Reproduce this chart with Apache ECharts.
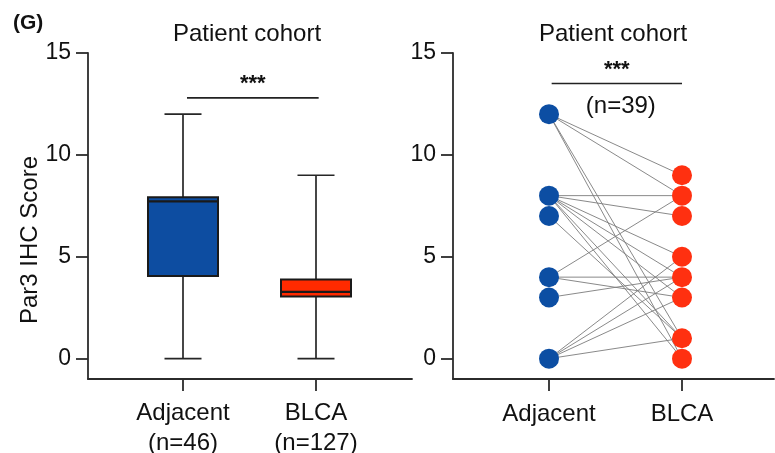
<!DOCTYPE html>
<html>
<head>
<meta charset="utf-8">
<script src="https://cdn.jsdelivr.net/npm/echarts@6/dist/echarts.min.js"></script>
<style>
html,body{margin:0;padding:0;background:#fff;}
#chart{width:775px;height:453px;}
</style>
</head>
<body>
<div id="chart"></div>
<script>
// ---- data ----
const categories = ['Adjacent', 'BLCA'];
const leftCatLabels = ['Adjacent\n(n=46)', 'BLCA\n(n=127)'];
const rightCatLabels = ['Adjacent', 'BLCA'];
const yTickValues = [0, 5, 10, 15];
// box plot: [min, Q1, median, Q3, max]
const boxAdjacent = [0, 4.05, 7.72, 7.92, 12];
const boxBLCA = [0, 3.05, 3.28, 3.88, 9];
// paired samples (distinct visible connections)
const pairAdjacent = [12, 12, 12, 12, 8, 8, 8, 8, 8, 8, 8, 7, 4, 4, 4, 3, 0, 0, 0, 0];
const pairBLCA     = [ 9,  8,  1,  0, 8, 7, 5, 4, 3, 1, 0, 1, 8, 4, 3, 4, 5, 4, 3, 1];
const adjacentPoints = [12, 8, 7, 4, 3, 0];
const blcaPoints = [9, 8, 7, 5, 4, 3, 1, 0];
// significance annotations: [xStart, xEnd, y]
const sigLeft = [1.03, 2.02, 12.8];
const sigRight = [1.02, 2.0, 13.5];
const nRightText = '(n=39)';
const sigText = '***';

// ---- style ----
const FONT = "'Liberation Sans', Arial, Helvetica, sans-serif";
const BLUE = '#0D4DA1';
const RED = '#FF2A00';
const DOT_BLUE = '#0C4EA3';
const DOT_RED = '#FF3010';
const AX = '#2b2b2b';
const boxColors = [BLUE, RED];

function axisX(gridIndex, min, max, labels, margin) {
  return {
    gridIndex, type: 'value', min, max,
    axisLine: { onZero: false, lineStyle: { color: AX, width: 1.8 } },
    axisTick: { customValues: [1, 2], length: 12, lineStyle: { color: AX, width: 1.8 } },
    axisLabel: {
      customValues: [1, 2], margin,
      formatter: v => labels[Math.round(v) - 1],
      fontFamily: FONT, fontSize: 24, lineHeight: 30, color: '#111'
    },
    splitLine: { show: false }
  };
}
function axisY(gridIndex) {
  return {
    gridIndex, type: 'value', min: -1, max: 15,
    axisLine: { show: true, onZero: false, lineStyle: { color: AX, width: 1.8 } },
    axisTick: { show: true, customValues: yTickValues, length: 12, lineStyle: { color: AX, width: 1.8 } },
    axisLabel: { customValues: yTickValues, margin: 17, fontFamily: FONT, fontSize: 23, color: '#111' },
    splitLine: { show: false }
  };
}

function renderBox(params, api) {
  const x = api.value(0);
  const mn = api.value(1), q1 = api.value(2), md = api.value(3), q3 = api.value(4), mx = api.value(5);
  const px = api.coord([x, 0])[0];
  const y = v => api.coord([x, v])[1];
  const hb = 35, hc = 18.5;
  const ls = { stroke: '#262626', lineWidth: 1.7 };
  return {
    type: 'group',
    children: [
      { type: 'line', shape: { x1: px, y1: y(mx), x2: px, y2: y(q3) }, style: ls },
      { type: 'line', shape: { x1: px, y1: y(q1), x2: px, y2: y(mn) }, style: ls },
      { type: 'line', shape: { x1: px - hc, y1: y(mx), x2: px + hc, y2: y(mx) }, style: ls },
      { type: 'line', shape: { x1: px - hc, y1: y(mn), x2: px + hc, y2: y(mn) }, style: ls },
      { type: 'rect', shape: { x: px - hb, y: y(q3), width: 2 * hb, height: y(q1) - y(q3) },
        style: { fill: boxColors[params.dataIndex], stroke: '#1a1a1a', lineWidth: 2 } },
      { type: 'line', shape: { x1: px - hb, y1: y(md), x2: px + hb, y2: y(md) },
        style: { stroke: '#1a1a1a', lineWidth: 2.2 } }
    ]
  };
}

function renderSig(extraText) {
  return function (params, api) {
    const x1 = api.value(0), x2 = api.value(1), yv = api.value(2);
    const p1 = api.coord([x1, yv]);
    const p2 = api.coord([x2, yv]);
    const cx = (p1[0] + p2[0]) / 2;
    const children = [
      { type: 'line', shape: { x1: p1[0], y1: p1[1], x2: p2[0], y2: p2[1] },
        style: { stroke: '#222', lineWidth: 1.6 } },
      { type: 'text', x: cx, y: p1[1] - 14,
        style: { text: sigText, font: 'bold 22px ' + FONT, fill: '#111',
                 align: 'center', verticalAlign: 'middle' } }
    ];
    if (extraText) {
      children.push({ type: 'text', x: cx + 4, y: p1[1] + 23,
        style: { text: extraText, font: '24px ' + FONT, fill: '#111',
                 align: 'center', verticalAlign: 'middle' } });
    }
    return { type: 'group', children };
  };
}

function renderPair(params, api) {
  const a = api.coord([api.value(0), api.value(1)]);
  const b = api.coord([api.value(2), api.value(3)]);
  return { type: 'line', shape: { x1: a[0], y1: a[1], x2: b[0], y2: b[1] },
           style: { stroke: '#7c7c7c', lineWidth: 0.9 } };
}

const chart = echarts.init(document.getElementById('chart'), null, { renderer: 'canvas' });
const option = {
  animation: false,
  backgroundColor: '#fff',
  grid: [
    { left: 88, top: 53, width: 324, height: 326, outerBoundsMode: 'none', containLabel: false },
    { left: 453, top: 53, width: 321, height: 326, outerBoundsMode: 'none', containLabel: false }
  ],
  xAxis: [
    axisX(0, 1 - 95 / 133, 2 + 96 / 133, leftCatLabels, 19),
    axisX(1, 1 - 96 / 133, 2 + 92 / 133, rightCatLabels, 20)
  ],
  yAxis: [axisY(0), axisY(1)],
  graphic: [
    { type: 'text', x: 13, y: 23, style: { text: '(G)', font: 'bold 21px ' + FONT, fill: '#111', verticalAlign: 'middle' } },
    { type: 'text', x: 247, y: 34, style: { text: 'Patient cohort', font: '24px ' + FONT, fill: '#111', align: 'center', verticalAlign: 'middle' } },
    { type: 'text', x: 613, y: 34, style: { text: 'Patient cohort', font: '24px ' + FONT, fill: '#111', align: 'center', verticalAlign: 'middle' } },
    { type: 'text', x: 30, y: 240, rotation: Math.PI / 2, style: { text: 'Par3 IHC Score', font: '24px ' + FONT, fill: '#111', align: 'center', verticalAlign: 'middle' } }
  ],
  series: [
    {
      type: 'custom', xAxisIndex: 0, yAxisIndex: 0,
      renderItem: renderBox,
      encode: { x: 0, y: [1, 2, 3, 4, 5] },
      data: [[1].concat(boxAdjacent), [2].concat(boxBLCA)]
    },
    {
      type: 'custom', xAxisIndex: 0, yAxisIndex: 0,
      renderItem: renderSig(null),
      encode: { x: [0, 1], y: 2 },
      data: [sigLeft]
    },
    {
      type: 'custom', xAxisIndex: 1, yAxisIndex: 1,
      renderItem: renderPair,
      encode: { x: [0, 2], y: [1, 3] },
      data: pairAdjacent.map((a, i) => [1, a, 2, pairBLCA[i]])
    },
    {
      type: 'scatter', xAxisIndex: 1, yAxisIndex: 1, symbolSize: 20,
      itemStyle: { color: DOT_BLUE, opacity: 1 },
      data: adjacentPoints.map(v => [1, v]), z: 5
    },
    {
      type: 'scatter', xAxisIndex: 1, yAxisIndex: 1, symbolSize: 20,
      itemStyle: { color: DOT_RED, opacity: 1 },
      data: blcaPoints.map(v => [2, v]), z: 5
    },
    {
      type: 'custom', xAxisIndex: 1, yAxisIndex: 1,
      renderItem: renderSig(nRightText),
      encode: { x: [0, 1], y: 2 },
      data: [sigRight]
    }
  ]
};
chart.setOption(option);
</script>
</body>
</html>
